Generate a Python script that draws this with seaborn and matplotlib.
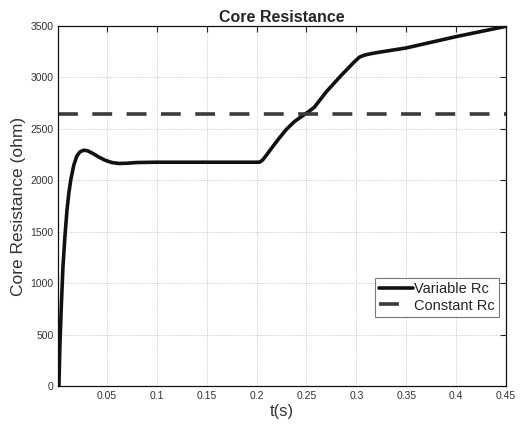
import numpy as np
import pandas as pd
import matplotlib
matplotlib.use("Agg")
import matplotlib.pyplot as plt
import seaborn as sns

# Data
t_var = [0.002, 0.003, 0.0045, 0.006, 0.008, 0.010, 0.012, 0.014, 0.017, 0.020,
         0.023, 0.027, 0.031, 0.036, 0.042, 0.048, 0.055, 0.062, 0.070, 0.080,
         0.100, 0.150, 0.203, 0.206, 0.210, 0.215, 0.222, 0.230, 0.238, 0.246,
         0.252, 0.258, 0.270, 0.285, 0.298, 0.303, 0.308, 0.314, 0.322, 0.350,
         0.400, 0.450]
r_var = [0, 400, 800, 1150, 1450, 1700, 1880, 2010, 2150, 2235,
         2275, 2292, 2285, 2260, 2225, 2195, 2172, 2163, 2165, 2172,
         2175, 2175, 2175, 2195, 2245, 2310, 2400, 2495, 2570, 2625,
         2665, 2710, 2860, 3020, 3150, 3195, 3215, 3228, 3242, 3285,
         3395, 3495]
t_const = [0.0015, 0.45]
r_const = [2640, 2640]

x_ticks = [0.05, 0.1, 0.15, 0.2, 0.25, 0.3, 0.35, 0.4, 0.45]
x_tick_labels = ["0.05", "0.1", "0.15", "0.2", "0.25", "0.3", "0.35", "0.4", "0.45"]
y_ticks = [0, 500, 1000, 1500, 2000, 2500, 3000, 3500]

sns.set_style("white")
plt.rcParams['font.family'] = ['Liberation Sans', 'DejaVu Sans']

fig = plt.figure(figsize=(5.31, 4.30), dpi=100)
ax = fig.add_axes([0.110, 0.102, 0.843, 0.838])

df_var = pd.DataFrame({"t": t_var, "R": r_var})
df_const = pd.DataFrame({"t": t_const, "R": r_const})

sns.lineplot(data=df_var, x="t", y="R", ax=ax, color="#111111", linewidth=2.6,
             label="Variable Rc", sort=False)
sns.lineplot(data=df_const, x="t", y="R", ax=ax, color="#3a3a3a", linewidth=2.6,
             label="Constant Rc", linestyle=(0, (5.5, 4.0)))

ax.set_xlim(0.0015, 0.45)
ax.set_ylim(0, 3500)
ax.set_xticks(x_ticks)
ax.set_xticklabels(x_tick_labels)
ax.set_yticks(y_ticks)
ax.tick_params(direction="in", top=True, right=True, length=4, width=0.8,
               labelsize=7.5, colors="#222222", labelcolor="#333333")
ax.grid(True, linestyle=(0, (1.5, 1.5)), color="#c8c8c8", linewidth=0.6)
for s in ax.spines.values():
    s.set_color("#111111")
    s.set_linewidth(0.9)

ax.set_title("Core Resistance", fontsize=11.5, fontweight="bold", pad=3)
ax.set_xlabel("t(s)", fontsize=12, color="#333333", labelpad=2)
ax.set_ylabel("Core Resistance (ohm)", fontsize=12.5, color="#333333", labelpad=3)

leg = ax.legend(loc="lower right", bbox_to_anchor=(0.995, 0.18), fontsize=10.5,
                frameon=True, fancybox=False, handlelength=2.3, handletextpad=0.1,
                borderpad=0.3, labelspacing=0.15, borderaxespad=0.3)
leg.get_frame().set_edgecolor("#555555")
leg.get_frame().set_linewidth(0.8)

fig.savefig("out.png", dpi=100)
